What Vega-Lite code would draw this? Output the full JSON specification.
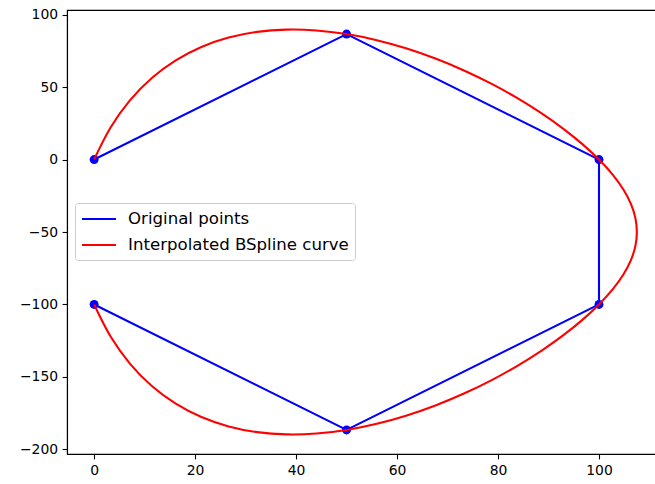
{
  "$schema": "https://vega.github.io/schema/vega-lite/v6.json",
  "autosize": {"type": "none"},
  "padding": {"left": 67, "top": 10, "right": 0, "bottom": 30},
  "width": 597,
  "height": 444,
  "background": "white",
  "config": {
    "view": {"stroke": "#000000", "strokeWidth": 1.1},
    "axis": {
      "grid": false,
      "title": null,
      "domainColor": "#000000",
      "domainWidth": 1.1,
      "tickColor": "#000000",
      "tickWidth": 1.1,
      "tickSize": 4.9,
      "labelPadding": 4.5,
      "labelFont": "DejaVu Sans",
      "labelFontSize": 13.9,
      "labelColor": "#000000"
    }
  },
  "datasets": {
    "orig": [
      {"i": 0, "x": 0, "y": 0, "series": "Original points"},
      {"i": 1, "x": 50, "y": 86.6, "series": "Original points"},
      {"i": 2, "x": 100, "y": 0, "series": "Original points"},
      {"i": 3, "x": 100, "y": -100, "series": "Original points"},
      {"i": 4, "x": 50, "y": -186.6, "series": "Original points"},
      {"i": 5, "x": 0, "y": -100, "series": "Original points"}
    ],
    "curve": [
      {"t": 0.0, "x": 0, "y": 0, "series": "Interpolated BSpline curve"},
      {"t": 0.1, "x": 3.29, "y": 22.27, "series": "Interpolated BSpline curve"},
      {"t": 0.2, "x": 7.12, "y": 40.97, "series": "Interpolated BSpline curve"},
      {"t": 0.3, "x": 11.43, "y": 56.31, "series": "Interpolated BSpline curve"},
      {"t": 0.4, "x": 16.16, "y": 68.49, "series": "Interpolated BSpline curve"},
      {"t": 0.5, "x": 21.25, "y": 77.71, "series": "Interpolated BSpline curve"},
      {"t": 0.6, "x": 26.64, "y": 84.18, "series": "Interpolated BSpline curve"},
      {"t": 0.7, "x": 32.27, "y": 88.1, "series": "Interpolated BSpline curve"},
      {"t": 0.8, "x": 38.08, "y": 89.67, "series": "Interpolated BSpline curve"},
      {"t": 0.9, "x": 44.01, "y": 89.1, "series": "Interpolated BSpline curve"},
      {"t": 1.0, "x": 50, "y": 86.6, "series": "Interpolated BSpline curve"},
      {"t": 1.1, "x": 55.99, "y": 82.37, "series": "Interpolated BSpline curve"},
      {"t": 1.2, "x": 61.92, "y": 76.6, "series": "Interpolated BSpline curve"},
      {"t": 1.3, "x": 67.73, "y": 69.52, "series": "Interpolated BSpline curve"},
      {"t": 1.4, "x": 73.36, "y": 61.31, "series": "Interpolated BSpline curve"},
      {"t": 1.5, "x": 78.75, "y": 52.19, "series": "Interpolated BSpline curve"},
      {"t": 1.6, "x": 83.84, "y": 42.36, "series": "Interpolated BSpline curve"},
      {"t": 1.7, "x": 88.57, "y": 32.02, "series": "Interpolated BSpline curve"},
      {"t": 1.8, "x": 92.88, "y": 21.38, "series": "Interpolated BSpline curve"},
      {"t": 1.9, "x": 96.71, "y": 10.64, "series": "Interpolated BSpline curve"},
      {"t": 2.0, "x": 100, "y": 0, "series": "Interpolated BSpline curve"},
      {"t": 2.1, "x": 102.7, "y": -10.37, "series": "Interpolated BSpline curve"},
      {"t": 2.2, "x": 104.8, "y": -20.5, "series": "Interpolated BSpline curve"},
      {"t": 2.3, "x": 106.3, "y": -30.43, "series": "Interpolated BSpline curve"},
      {"t": 2.4, "x": 107.2, "y": -40.25, "series": "Interpolated BSpline curve"},
      {"t": 2.5, "x": 107.5, "y": -50, "series": "Interpolated BSpline curve"},
      {"t": 2.6, "x": 107.2, "y": -59.75, "series": "Interpolated BSpline curve"},
      {"t": 2.7, "x": 106.3, "y": -69.57, "series": "Interpolated BSpline curve"},
      {"t": 2.8, "x": 104.8, "y": -79.5, "series": "Interpolated BSpline curve"},
      {"t": 2.9, "x": 102.7, "y": -89.63, "series": "Interpolated BSpline curve"},
      {"t": 3.0, "x": 100, "y": -100, "series": "Interpolated BSpline curve"},
      {"t": 3.1, "x": 96.71, "y": -110.64, "series": "Interpolated BSpline curve"},
      {"t": 3.2, "x": 92.88, "y": -121.38, "series": "Interpolated BSpline curve"},
      {"t": 3.3, "x": 88.57, "y": -132.02, "series": "Interpolated BSpline curve"},
      {"t": 3.4, "x": 83.84, "y": -142.36, "series": "Interpolated BSpline curve"},
      {"t": 3.5, "x": 78.75, "y": -152.19, "series": "Interpolated BSpline curve"},
      {"t": 3.6, "x": 73.36, "y": -161.31, "series": "Interpolated BSpline curve"},
      {"t": 3.7, "x": 67.73, "y": -169.52, "series": "Interpolated BSpline curve"},
      {"t": 3.8, "x": 61.92, "y": -176.6, "series": "Interpolated BSpline curve"},
      {"t": 3.9, "x": 55.99, "y": -182.37, "series": "Interpolated BSpline curve"},
      {"t": 4.0, "x": 50, "y": -186.6, "series": "Interpolated BSpline curve"},
      {"t": 4.1, "x": 44.01, "y": -189.1, "series": "Interpolated BSpline curve"},
      {"t": 4.2, "x": 38.08, "y": -189.67, "series": "Interpolated BSpline curve"},
      {"t": 4.3, "x": 32.27, "y": -188.1, "series": "Interpolated BSpline curve"},
      {"t": 4.4, "x": 26.64, "y": -184.18, "series": "Interpolated BSpline curve"},
      {"t": 4.5, "x": 21.25, "y": -177.71, "series": "Interpolated BSpline curve"},
      {"t": 4.6, "x": 16.16, "y": -168.49, "series": "Interpolated BSpline curve"},
      {"t": 4.7, "x": 11.43, "y": -156.31, "series": "Interpolated BSpline curve"},
      {"t": 4.8, "x": 7.12, "y": -140.97, "series": "Interpolated BSpline curve"},
      {"t": 4.9, "x": 3.29, "y": -122.27, "series": "Interpolated BSpline curve"},
      {"t": 5.0, "x": 0, "y": -100, "series": "Interpolated BSpline curve"}
    ]
  },
  "encoding": {
    "x": {
      "field": "x",
      "type": "quantitative",
      "scale": {"domain": [-5.375, 112.875], "nice": false, "zero": false},
      "axis": {"values": [0, 20, 40, 60, 80, 100]}
    },
    "y": {
      "field": "y",
      "type": "quantitative",
      "scale": {"domain": [-203.2, 103.2], "nice": false, "zero": false},
      "axis": {
        "values": [-200, -150, -100, -50, 0, 50, 100],
        "labelExpr": "replace(datum.label, '-', '−')"
      }
    }
  },
  "layer": [
    {
      "data": {"name": "orig"},
      "mark": {"type": "line", "strokeWidth": 2.1, "clip": true},
      "encoding": {
        "order": {"field": "i", "type": "quantitative"},
        "color": {
          "field": "series",
          "type": "nominal",
          "scale": {
            "domain": ["Original points", "Interpolated BSpline curve"],
            "range": ["#0000ff", "#ff0000"]
          },
          "legend": {
            "title": null,
            "orient": "none",
            "legendX": 8,
            "legendY": 193,
            "symbolType": "M-2,0H2",
            "symbolSize": 289,
            "symbolStrokeWidth": 2.1,
            "symbolOffset": 8,
            "labelFont": "DejaVu Sans",
            "labelFontSize": 16.6,
            "labelColor": "#000000",
            "labelOffset": 19,
            "labelLimit": 400,
            "rowPadding": 7,
            "padding": 6,
            "fillColor": "rgba(255,255,255,0.8)",
            "strokeColor": "#cccccc",
            "cornerRadius": 3
          }
        }
      }
    },
    {
      "data": {"name": "orig"},
      "mark": {"type": "point", "filled": true, "shape": "circle", "size": 80, "opacity": 1, "color": "#0000ff", "clip": true}
    },
    {
      "data": {"name": "curve"},
      "mark": {"type": "line", "strokeWidth": 2.1, "interpolate": "catmull-rom", "clip": true},
      "encoding": {
        "order": {"field": "t", "type": "quantitative"},
        "color": {"field": "series", "type": "nominal"}
      }
    }
  ]
}
